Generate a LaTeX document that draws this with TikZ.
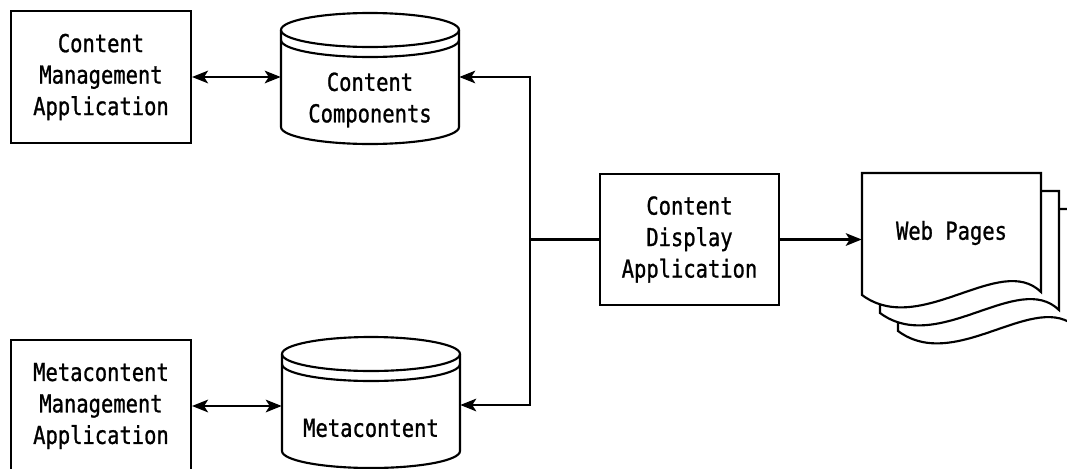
\documentclass[tikz,border=0pt]{standalone}
\usepackage{fontspec}
\newfontfamily\diagfont{DejaVu Sans Mono}[FakeStretch=0.83, FakeBold=1]
\usetikzlibrary{arrows.meta}

\tikzset{
  link/.style={line width=1.6pt, line join=miter},
  txt/.style={font={\diagfont\fontsize{18.5pt}{23.6pt}\selectfont}, align=center, inner sep=0pt},
  box/.style={txt, draw, line width=1.6pt, minimum width=135pt, minimum height=99pt},
  tip/.style={-{Stealth[length=12pt, width=9.5pt, inset=3pt]}},
  dbl/.style={{Stealth[length=12pt, width=9.5pt, inset=3pt]}-{Stealth[length=12pt, width=9.5pt, inset=3pt]}}
}

% database drum: centre x, centre y of the lid, centre y of the base
\newcommand\dbdrum[3]{%
  \draw[link, fill=white] ({#1-89},#2) -- ({#1-89},#3)
     arc[start angle=180, end angle=360, x radius=66.75pt, y radius=12.75pt]
     -- ({#1+89},#2);
  \draw[link] (#1,#2) ellipse[x radius=66.75pt, y radius=12.75pt];
  \draw[link] ({#1-89},{#2+10})
     arc[start angle=180, end angle=360, x radius=66.75pt, y radius=12.75pt];
}

\begin{document}
\begin{tikzpicture}[x=0.75pt, y=-0.75pt]
\useasboundingbox (0,0) rectangle (1067,468);
\clip (0,0) rectangle (1067,468);

% stacked web pages, back to front
\foreach \d in {36,18,0}{
  \begin{scope}[shift={(\d,\d)}]
    \draw[link, fill=white] (862,173) -- (1041,173) -- (1041,292)
      .. controls (1000,252) and (920,338) .. (862,295) -- cycle;
  \end{scope}
}

% data stores
\dbdrum{370}{30}{127}
\dbdrum{371}{354}{451}

% nodes
\node[box] (cma) at (101,77) {Content\\Management\\Application};
\node[txt, minimum width=133.5pt] (cc) at (370,100) {Content\\Components};
\node[box, minimum width=134.25pt, minimum height=98.25pt] (cda) at (689.5,239.5) {Content\\Display\\Application};
\node[box] (mma) at (101,406) {Metacontent\\Management\\Application};
\node[txt, minimum width=133.5pt] (mc) at (371,428) {Metacontent};
\node[txt, minimum width=134.25pt] (wp) at (951.5,233) {Web Pages};

\coordinate (jt) at (530,77);
\coordinate (jb) at (530,405);

% connectors
\draw[link, dbl] (cma.east) -- (cma.east -| cc.west);
\draw[link, dbl] (mma.east) -- (mma.east -| mc.west);
\draw[link, dbl] (jt -| cc.east) -- (jt) -- (jb) -- (jb -| mc.east);
\draw[link] (cda.west) -- (cda.west -| jt);
\draw[link, tip] (cda.east) -- (cda.east -| wp.west);
\end{tikzpicture}
\end{document}
